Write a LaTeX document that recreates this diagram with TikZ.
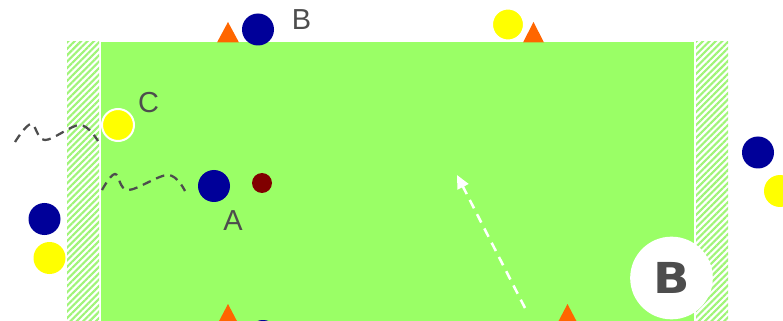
\documentclass[tikz,border=0pt]{standalone}
\usepackage{fontspec}
\setmainfont{Liberation Sans}
\newfontfamily\bigfont{DejaVu Sans}
\usetikzlibrary{patterns.meta,arrows.meta}
\definecolor{field}{RGB}{154,255,102}
\definecolor{hatchg}{RGB}{160,245,120}
\definecolor{pblue}{RGB}{0,0,153}
\definecolor{pyellow}{RGB}{255,255,0}
\definecolor{porange}{RGB}{255,102,0}
\definecolor{pball}{RGB}{128,0,0}
\definecolor{tgray}{RGB}{77,77,77}
\tikzset{
  blueplayer/.style={circle,fill=pblue,minimum size=24pt,inner sep=0pt},
  yellowplayer/.style={circle,fill=pyellow,minimum size=24pt,inner sep=0pt},
  yellowring/.style={circle,fill=pyellow,draw=white,line width=1.5pt,minimum size=24pt,inner sep=0pt},
  ball/.style={circle,fill=pball,minimum size=15pt,inner sep=0pt},
  cone/.style={fill=porange},
  lbl/.style={text=tgray,font=\fontsize{21.7}{24}\selectfont,inner sep=0pt},
  hatch/.style={pattern={Lines[angle=45,distance=3.4pt,line width=1.6pt]},pattern color=hatchg},
  run/.style={draw=tgray,line width=1.7pt,dash pattern=on 6.5pt off 4.5pt},
  pass/.style={draw=white,line width=1.9pt,dash pattern=on 7pt off 5pt,-{Triangle[length=10pt,width=9pt]}}
}
\begin{document}
\begin{tikzpicture}[x=0.75pt,y=-0.75pt]
\useasboundingbox (0,0) rectangle (783,321);
\fill[white] (0,0) rectangle (783,321);
% field
\fill[field] (101,42) rectangle (694,330);
\fill[white] (99,42) rectangle (101,330);
\fill[white] (694,42) rectangle (696,330);
% goal zones
\fill[hatch] (67,42) rectangle (99,330);
\fill[hatch] (696,42) rectangle (728,330);
% cones
\fill[cone] (217,42.5) -- (228,22) -- (239,42.5) -- cycle;
\fill[cone] (523,42.5) -- (533.5,22) -- (544,42.5) -- cycle;
\fill[cone] (217,325) -- (228,304) -- (239,325) -- cycle;
\fill[cone] (556.5,325) -- (567.5,304) -- (578.5,325) -- cycle;
% players
\node[blueplayer] (b) at (258,29.5) {};
\node[lbl] (bl) at (301.5,19.7) {B};
\node[yellowring] (ytop) at (508,24.5) {};
\node[yellowring] (c) at (118,125) {};
\node[lbl] (cl) at (148.5,103) {C};
\node[blueplayer] (a) at (214,186) {};
\node[lbl] (al) at (233,220.5) {A};
\node[ball] (ballnode) at (262,183) {};
\node[blueplayer] (bleft) at (44.5,219) {};
\node[yellowplayer] (yleft) at (49.5,258) {};
\node[blueplayer] (bright) at (758,152.5) {};
\node[yellowplayer] (yright) at (780,191) {};
\node[blueplayer] (bbot) at (263,336) {};
% runs
\draw[run] plot[smooth,tension=0.6] coordinates {(15,142) (31,124) (45,140) (80,125) (98,141)};
\draw[run] plot[smooth,tension=0.6] coordinates {(102,190) (115,174) (128,190) (168,175) (185,191)};
% pass
\coordinate (ps) at (525,308);
\coordinate (pe) at (457,175);
\draw[pass] (ps) -- (pe);
% badge
\node[circle,fill=white,minimum size=62pt,inner sep=0pt] (badge) at (671.5,278) {};
\node[text=tgray,inner sep=0pt,xscale=1.12] (badget) at (671.5,278) {\bigfont\bfseries\fontsize{32}{34}\selectfont B};
\end{tikzpicture}
\end{document}
